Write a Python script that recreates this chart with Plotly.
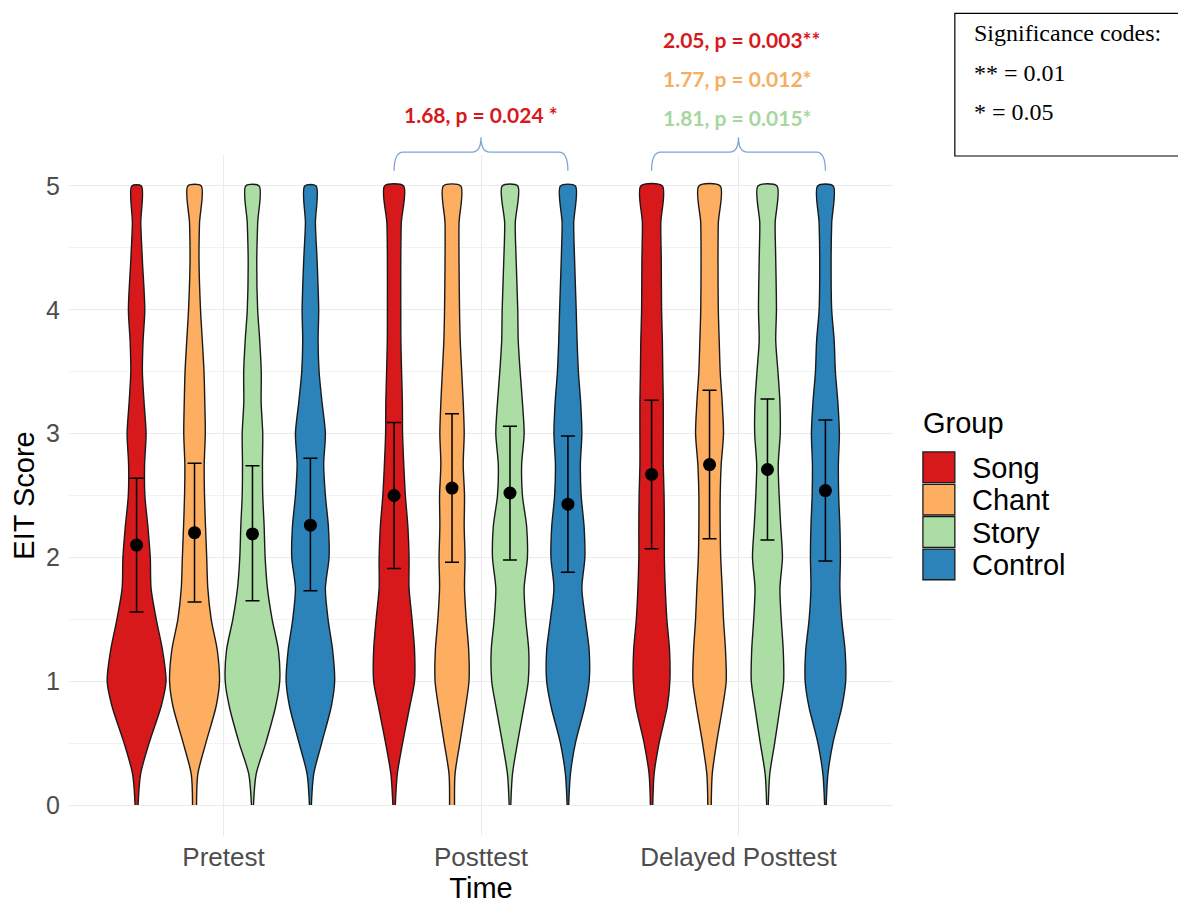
import plotly.graph_objects as go

# ---------------- data ----------------
TIMES = ["Pretest", "Posttest", "Delayed Posttest"]
GROUPS = ["Song", "Chant", "Story", "Control"]

# score levels at which the violin density (half width) was read
DENS_Y = [0, 0.25, 0.5, 0.8, 1, 1.25, 1.5, 1.75, 2, 2.25, 2.5, 2.75, 3, 3.25, 3.5, 3.75, 4, 4.4, 4.7, 5]

# relative densities (bottom -> top) for each group
PRE_SONG = [1.5, 4, 12.5, 24.7, 29.5, 26, 19.7, 14.5, 13.7, 11.3, 8.3, 8, 9.5, 7.5, 5.8, 6.5, 8.2, 5.8, 4.2, 4.8]
PRE_CHANT = [2, 3.3, 11.3, 21.7, 25, 22.8, 16.7, 13.3, 12.2, 11, 10, 9.7, 10.8, 10.3, 9.5, 7.8, 6, 4.5, 5, 6.7]
PRE_STORY = [1, 3.7, 13.3, 23.3, 27.3, 26, 19.7, 15, 12.7, 11.7, 10.3, 10, 10.3, 8.7, 8.8, 7.3, 5.2, 4.3, 5.2, 6.7]
PRE_CONTROL = [1, 3.3, 11.3, 21, 24.3, 22.3, 17.7, 15, 18.7, 18, 15, 13.3, 15, 11.7, 8.7, 7.7, 8.3, 6.7, 5, 5.7]

POST_SONG = [1.2, 3.2, 8.5, 15.8, 20.5, 20.5, 18, 15, 15, 13.8, 11.3, 9.7, 8.5, 8.3, 7.5, 6.8, 6.7, 6.7, 7.2, 9.5]
POST_CHANT = [2.5, 3, 7.8, 13.7, 17, 16.7, 14.2, 12.5, 13, 12.2, 12.5, 11.2, 12.2, 11.2, 9.7, 8.2, 7.5, 7, 7, 8.7]
POST_STORY = [0.8, 2.5, 7.5, 14.2, 18.3, 18.8, 15.8, 14.2, 17.5, 16.7, 12.5, 11.7, 14.2, 12.5, 10.2, 8.3, 7.8, 6.2, 5.3, 7.8]
POST_CONTROL = [0.8, 2.5, 7.5, 17, 21.3, 21.3, 17.5, 14, 17, 16.2, 13.3, 12.5, 14, 12.8, 10.5, 9.2, 8.3, 6.7, 5.8, 7.5]

DEL_SONG = [1.2, 2.5, 7.5, 15.8, 18.3, 18, 15.3, 13.7, 12.8, 12.8, 12.5, 11.7, 11.7, 11.7, 11.2, 10.8, 10, 9.7, 9.2, 10.8]
DEL_CHANT = [1.7, 2.7, 7, 13.3, 16.7, 16, 14, 12.7, 11.2, 10.7, 10.7, 11.7, 14, 12.7, 10.7, 9.7, 8.8, 8.5, 8.8, 10.7]
DEL_STORY = [0.8, 2.3, 7.2, 12.8, 16.2, 15.8, 13.8, 12.5, 15, 13.3, 11.7, 10.8, 12.8, 12.5, 10.5, 8.3, 9, 8.3, 7.7, 9.5]
DEL_CONTROL = [0.8, 2.5, 7.5, 16.7, 20.3, 19.7, 16.3, 14.5, 15, 14.5, 13.3, 13, 14, 12.5, 10, 8.8, 6.3, 5.7, 6.3, 7.8]

# means and error-bar limits (Song, Chant, Story, Control)
PRE_MEAN = [2.10, 2.20, 2.19, 2.26]
PRE_LOW = [1.56, 1.64, 1.65, 1.73]
PRE_HIGH = [2.64, 2.76, 2.74, 2.80]
POST_MEAN = [2.50, 2.56, 2.52, 2.43]
POST_LOW = [1.91, 1.96, 1.98, 1.88]
POST_HIGH = [3.09, 3.16, 3.06, 2.98]
DEL_MEAN = [2.67, 2.75, 2.71, 2.54]
DEL_LOW = [2.07, 2.15, 2.14, 1.97]
DEL_HIGH = [3.27, 3.35, 3.28, 3.11]

POST_LABEL = "1.68, p = 0.024 *"
DEL_LABELS = ["2.05, p = 0.003**", "1.77, p = 0.012*", "1.81, p = 0.015*"]
SIG_TITLE = "Significance codes:"
SIG_LINES = ["** = 0.01", "* = 0.05"]

# ---------------- style ----------------
COLORS = ["#D7191C", "#FDAE61", "#ABDDA4", "#2B83BA"]
TEXT_COLORS = ["#D7191C", "#F5AE62", "#A6D79C"]
SANS = "Liberation Sans, Arial, Helvetica, sans-serif"
CAL = "Lato, Carlito, Calibri, sans-serif"
SERIF = "Liberation Serif, Times New Roman, serif"
DODGE = 0.9
DENS_SCALE = 1 / 258.0

DENS = [[PRE_SONG, PRE_CHANT, PRE_STORY, PRE_CONTROL],
        [POST_SONG, POST_CHANT, POST_STORY, POST_CONTROL],
        [DEL_SONG, DEL_CHANT, DEL_STORY, DEL_CONTROL]]
MEANS = [PRE_MEAN, POST_MEAN, DEL_MEAN]
LOWS = [PRE_LOW, POST_LOW, DEL_LOW]
HIGHS = [PRE_HIGH, POST_HIGH, DEL_HIGH]

# page offset (body margin) and plot area, in screenshot pixels
OFF = 8
W, H = 1186 - OFF, 904 - OFF
ML, MT = 67 - OFF, 155 - OFF
PR, PB = 893 - OFF, 843 - OFF
MR, MB = W - PR, H - PB
PW, PH = PR - ML, PB - MT
XR = [0.4, 3.6]


def px_x(p):
    return (p - OFF - ML) / PW


def px_y(p):
    return (PB - (p - OFF)) / PH


def dx(v):
    return (v - XR[0]) / (XR[1] - XR[0])


fig = go.Figure()
ng = len(GROUPS)
step = DODGE / ng
for i, t in enumerate(TIMES):
    for j, g in enumerate(GROUPS):
        c = (i + 1) + (j - (ng - 1) / 2) * step
        d = DENS[i][j]
        xs = [c + w * DENS_SCALE for w in d] + [c - w * DENS_SCALE for w in reversed(d)]
        ys = list(DENS_Y) + list(reversed(DENS_Y))
        fig.add_trace(go.Scatter(
            x=xs, y=ys, mode="lines", fill="toself", fillcolor=COLORS[j],
            line=dict(color="#1a1a1a", width=1.4, shape="spline", smoothing=0.8),
            showlegend=False, hoverinfo="skip"))
    cx = [(i + 1) + (j - (ng - 1) / 2) * step for j in range(ng)]
    fig.add_trace(go.Scatter(
        x=cx, y=MEANS[i], mode="markers",
        marker=dict(color="black", size=13),
        error_y=dict(type="data", symmetric=False,
                     array=[h - m for h, m in zip(HIGHS[i], MEANS[i])],
                     arrayminus=[m - l for m, l in zip(MEANS[i], LOWS[i])],
                     color="black", thickness=1.5, width=7),
        showlegend=False, hoverinfo="skip"))

shapes = []
annots = []

# legend (drawn manually)
annots.append(dict(text="Group", xref="paper", yref="paper", x=px_x(921), y=px_y(426),
                   xanchor="left", yanchor="middle", showarrow=False,
                   font=dict(family=SANS, size=29, color="black")))
for j, g in enumerate(GROUPS):
    top = 455 + j * 32.7
    shapes.append(dict(type="rect", xref="paper", yref="paper",
                       x0=px_x(923), x1=px_x(955), y0=px_y(top), y1=px_y(top + 31),
                       fillcolor=COLORS[j], line=dict(color="#1a1a1a", width=1.3)))
    annots.append(dict(text=g, xref="paper", yref="paper", x=px_x(970), y=px_y(top + 16),
                       xanchor="left", yanchor="middle", showarrow=False,
                       font=dict(family=SANS, size=29, color="black")))

# significance box
shapes.append(dict(type="rect", xref="paper", yref="paper",
                   x0=px_x(955), x1=px_x(1183), y0=px_y(12), y1=px_y(156),
                   line=dict(color="black", width=1.2), fillcolor="white"))
for k, s in enumerate([SIG_TITLE] + SIG_LINES):
    annots.append(dict(text=s, xref="paper", yref="paper", x=px_x(972), y=px_y(32 + 40 * k),
                       xanchor="left", yanchor="middle", showarrow=False,
                       font=dict(family=SERIF, size=24, color="black")))

# curly braces over Posttest and Delayed Posttest
for i in (1, 2):
    left = (i + 1) - (ng - 1) / 2 * step
    right = (i + 1) + (ng - 1) / 2 * step
    xl, xm, xr = dx(left), dx(i + 1), dx(right)
    yb, yh, yp = px_y(171), px_y(152), px_y(137)
    e = 9 / PW
    path = (f"M {xl},{yb} Q {xl},{yh} {xl + e},{yh} L {xm - e},{yh} "
            f"Q {xm},{yh} {xm},{yp} Q {xm},{yh} {xm + e},{yh} "
            f"L {xr - e},{yh} Q {xr},{yh} {xr},{yb}")
    shapes.append(dict(type="path", xref="paper", yref="paper", path=path,
                       line=dict(color="#7FA3D6", width=1.3)))

annots.append(dict(text=f"<b>{POST_LABEL}</b>", xref="paper", yref="paper", x=dx(2), y=px_y(114),
                   xanchor="center", yanchor="middle", showarrow=False,
                   font=dict(family=CAL, size=21, color=TEXT_COLORS[0])))
for k, s in enumerate(DEL_LABELS):
    annots.append(dict(text=f"<b>{s}</b>", xref="paper", yref="paper", x=px_x(660), y=px_y(38 + 39.5 * k),
                       xanchor="left", yanchor="middle", showarrow=False,
                       font=dict(family=CAL, size=21, color=TEXT_COLORS[k])))

fig.update_layout(
    width=W, height=H,
    margin=dict(l=ML, r=MR, t=MT, b=MB),
    paper_bgcolor="white", plot_bgcolor="white",
    shapes=shapes, annotations=annots,
    xaxis=dict(range=XR, tickvals=[1, 2, 3], ticktext=TIMES, showgrid=True,
               gridcolor="#EBEBEB", gridwidth=1.2, zeroline=False, showline=False, ticks="",
               ticklabelstandoff=3,
               tickfont=dict(family=SANS, size=26, color="#4D4D4D"),
               title=dict(text="Time", font=dict(family=SANS, size=29, color="black"), standoff=0)),
    yaxis=dict(range=[-0.25, 5.25], tickvals=[0, 1, 2, 3, 4, 5], showgrid=True,
               gridcolor="#EBEBEB", gridwidth=1.2, zeroline=False, showline=False, ticks="",
               ticklabelstandoff=8,
               minor=dict(dtick=0.5, tick0=0, showgrid=True, gridcolor="#F2F2F2", gridwidth=1),
               tickfont=dict(family=SANS, size=25, color="#4D4D4D"),
               title=dict(text="EIT Score", font=dict(family=SANS, size=29, color="black"), standoff=6)),
)

fig.write_html("out.html")
